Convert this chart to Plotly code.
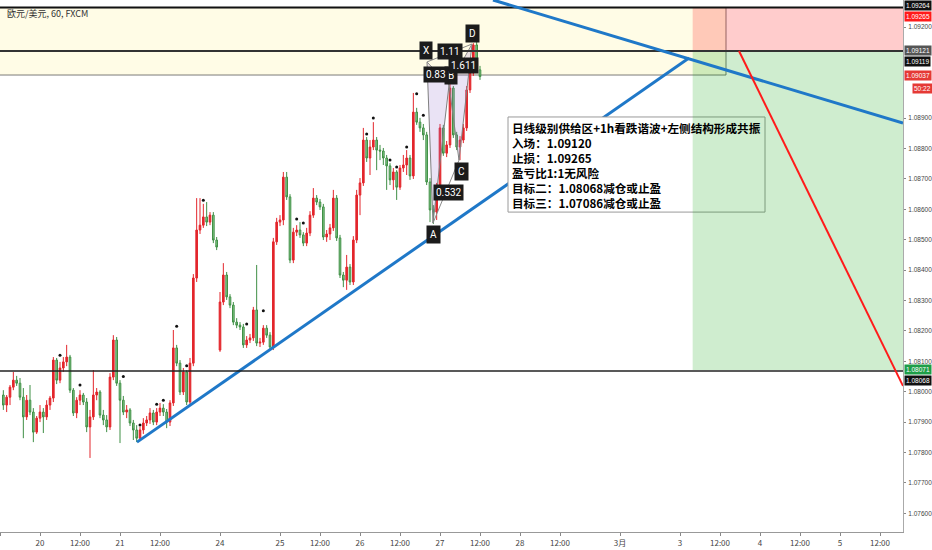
"""
欧元/美元 1小时图 - 谐波形态 + 供给区 + 多空头寸示意
"""
import plotly.graph_objects as go

# K线数据 (小时, 2月19日 12:00 起)
bar_index = list(range(1, 145))

opens = [
    1.07989, 1.07956, 1.07982, 1.08015, 1.08038, 1.08028, 1.07982, 1.07917, 1.07972, 1.07933,
    1.07867, 1.07913, 1.07933, 1.07917, 1.07956, 1.07979, 1.08104, 1.08038, 1.08078, 1.08098,
    1.08114, 1.08005, 1.07930, 1.07972, 1.07989, 1.07966, 1.07884, 1.07917, 1.07989, 1.07999,
    1.07923, 1.07907, 1.07884, 1.08048, 1.08170, 1.08028, 1.07972, 1.07933, 1.07940, 1.07897,
    1.07874, 1.07847, 1.07874, 1.07897, 1.07907, 1.07930, 1.07900, 1.07933, 1.07946, 1.07933,
    1.07900, 1.07963, 1.08144, 1.08094, 1.07999, 1.08065, 1.07966, 1.08094, 1.08374, 1.08532,
    1.08548, 1.08575, 1.08558, 1.08581, 1.08499, 1.08137, 1.08295, 1.08384, 1.08312, 1.08285,
    1.08229, 1.08219, 1.08213, 1.08154, 1.08170, 1.08177, 1.08269, 1.08160, 1.08163, 1.08209,
    1.08186, 1.08147, 1.08493, 1.08558, 1.08565, 1.08706, 1.08641, 1.08433, 1.08525, 1.08532,
    1.08516, 1.08489, 1.08522, 1.08581, 1.08637, 1.08624, 1.08608, 1.08509, 1.08519, 1.08539,
    1.08637, 1.08506, 1.08384, 1.08367, 1.08410, 1.08361, 1.08499, 1.08647, 1.08687, 1.08828,
    1.08769, 1.08805, 1.08828, 1.08795, 1.08792, 1.08769, 1.08743, 1.08697, 1.08723, 1.08673,
    1.08736, 1.08746, 1.08769, 1.08710, 1.08920, 1.08887, 1.08868, 1.08845, 1.08690, 1.08598,
    1.08591, 1.08673, 1.08868, 1.08785, 1.08812, 1.08999, 1.08845, 1.08805, 1.08828, 1.08868,
    1.08993, 1.09049, 1.09141, 1.09059,
]
highs = [
    1.08005, 1.07989, 1.08022, 1.08065, 1.08052, 1.08045, 1.08012, 1.07989, 1.08022, 1.07946,
    1.07920, 1.07956, 1.07946, 1.07972, 1.07986, 1.08114, 1.08111, 1.08098, 1.08114, 1.08154,
    1.08121, 1.08012, 1.07982, 1.08005, 1.07996, 1.07979, 1.07940, 1.08071, 1.08012, 1.08005,
    1.07940, 1.07923, 1.08061, 1.08186, 1.08180, 1.08038, 1.07986, 1.07956, 1.07946, 1.07907,
    1.07890, 1.07884, 1.07913, 1.07920, 1.07946, 1.07940, 1.07946, 1.07963, 1.07959, 1.07943,
    1.07972, 1.08203, 1.08154, 1.08104, 1.08078, 1.08071, 1.08111, 1.08387, 1.08637, 1.08637,
    1.08618, 1.08624, 1.08591, 1.08591, 1.08509, 1.08328, 1.08423, 1.08394, 1.08321, 1.08295,
    1.08242, 1.08229, 1.08223, 1.08183, 1.08190, 1.08279, 1.08417, 1.08177, 1.08219, 1.08219,
    1.08196, 1.08506, 1.08572, 1.08581, 1.08723, 1.08723, 1.08650, 1.08539, 1.08548, 1.08558,
    1.08525, 1.08539, 1.08594, 1.08670, 1.08647, 1.08634, 1.08618, 1.08532, 1.08552, 1.08664,
    1.08647, 1.08516, 1.08394, 1.08450, 1.08420, 1.08512, 1.08664, 1.08703, 1.08868, 1.08838,
    1.08828, 1.08887, 1.08838, 1.08812, 1.08802, 1.08779, 1.08752, 1.08736, 1.08729, 1.08746,
    1.08779, 1.08795, 1.08779, 1.08983, 1.08934, 1.08901, 1.08881, 1.08855, 1.08703, 1.08614,
    1.08687, 1.08881, 1.08878, 1.08825, 1.09013, 1.09006, 1.08855, 1.08841, 1.08881, 1.09006,
    1.09065, 1.09147, 1.09151, 1.09072,
]
lows = [
    1.07940, 1.07933, 1.07956, 1.08005, 1.08019, 1.07972, 1.07847, 1.07907, 1.07923, 1.07834,
    1.07861, 1.07900, 1.07864, 1.07907, 1.07940, 1.07966, 1.08025, 1.08028, 1.08065, 1.08084,
    1.07996, 1.07920, 1.07913, 1.07956, 1.07956, 1.07867, 1.07782, 1.07907, 1.07972, 1.07913,
    1.07890, 1.07867, 1.07874, 1.08038, 1.08019, 1.07831, 1.07923, 1.07913, 1.07887, 1.07841,
    1.07834, 1.07838, 1.07861, 1.07887, 1.07894, 1.07890, 1.07890, 1.07920, 1.07920, 1.07880,
    1.07887, 1.07953, 1.08084, 1.07989, 1.07989, 1.07956, 1.07959, 1.08084, 1.08361, 1.08519,
    1.08539, 1.08545, 1.08548, 1.08489, 1.08466, 1.08131, 1.08285, 1.08302, 1.08275, 1.08219,
    1.08209, 1.08203, 1.08144, 1.08144, 1.08160, 1.08167, 1.08150, 1.08147, 1.08154, 1.08177,
    1.08137, 1.08137, 1.08483, 1.08545, 1.08548, 1.08631, 1.08423, 1.08423, 1.08512, 1.08506,
    1.08479, 1.08479, 1.08512, 1.08572, 1.08614, 1.08598, 1.08499, 1.08493, 1.08499, 1.08529,
    1.08496, 1.08374, 1.08344, 1.08335, 1.08351, 1.08351, 1.08489, 1.08581, 1.08677, 1.08756,
    1.08713, 1.08795, 1.08729, 1.08762, 1.08746, 1.08664, 1.08680, 1.08664, 1.08631, 1.08664,
    1.08723, 1.08713, 1.08697, 1.08700, 1.08878, 1.08855, 1.08828, 1.08680, 1.08558, 1.08552,
    1.08565, 1.08664, 1.08776, 1.08772, 1.08802, 1.08835, 1.08795, 1.08762, 1.08818, 1.08858,
    1.08983, 1.09039, 1.09049, 1.09026,
]
closes = [
    1.07956, 1.07982, 1.08015, 1.08038, 1.08028, 1.07982, 1.07917, 1.07972, 1.07933, 1.07867,
    1.07913, 1.07933, 1.07917, 1.07956, 1.07979, 1.08104, 1.08038, 1.08078, 1.08098, 1.08114,
    1.08005, 1.07930, 1.07972, 1.07989, 1.07966, 1.07884, 1.07917, 1.07989, 1.07999, 1.07923,
    1.07907, 1.07884, 1.08048, 1.08170, 1.08028, 1.07972, 1.07933, 1.07940, 1.07897, 1.07874,
    1.07847, 1.07874, 1.07897, 1.07907, 1.07930, 1.07900, 1.07933, 1.07946, 1.07933, 1.07900,
    1.07963, 1.08144, 1.08094, 1.07999, 1.08065, 1.07966, 1.08094, 1.08374, 1.08532, 1.08548,
    1.08575, 1.08558, 1.08581, 1.08499, 1.08476, 1.08295, 1.08384, 1.08312, 1.08285, 1.08229,
    1.08219, 1.08213, 1.08154, 1.08170, 1.08177, 1.08269, 1.08160, 1.08163, 1.08209, 1.08186,
    1.08147, 1.08493, 1.08558, 1.08565, 1.08706, 1.08641, 1.08433, 1.08525, 1.08532, 1.08516,
    1.08489, 1.08522, 1.08581, 1.08637, 1.08624, 1.08608, 1.08509, 1.08519, 1.08539, 1.08637,
    1.08506, 1.08384, 1.08367, 1.08410, 1.08361, 1.08499, 1.08647, 1.08687, 1.08828, 1.08769,
    1.08805, 1.08828, 1.08795, 1.08792, 1.08769, 1.08743, 1.08697, 1.08723, 1.08673, 1.08736,
    1.08746, 1.08769, 1.08710, 1.08920, 1.08887, 1.08868, 1.08845, 1.08690, 1.08598, 1.08591,
    1.08673, 1.08868, 1.08785, 1.08812, 1.08999, 1.08845, 1.08805, 1.08828, 1.08868, 1.08993,
    1.09049, 1.09141, 1.09059, 1.09037,
]

# 分形点 (K线上方的小黑点)
fractal_x = [18, 24, 37, 42, 47, 49, 53, 56, 61, 74, 79, 89, 91, 110, 112, 117, 119, 122, 125, 127]
fractal_y = [1.08120, 1.08022, 1.08050, 1.07890, 1.07959, 1.07972, 1.08215, 1.08085, 1.08630, 1.08223,
             1.08266, 1.08568, 1.08555, 1.08848, 1.08901, 1.08762, 1.08739, 1.08805, 1.08980, 1.08910]

# 谐波形态 XABCD
pattern_names = ["X", "A", "B", "C", "D"]
pattern_x = [128.1, 129.9, 134.7, 137.7, 141.6]
pattern_y = [1.09085, 1.08555, 1.09009, 1.08762, 1.09144]
ratio_labels = ["1.11", "0.83", "1.611", "0.532"]

# 横轴刻度
tick_pos = [0, 12, 24, 36, 48, 66, 84, 96, 108, 120, 132, 144, 156, 168, 186, 204, 216, 228, 240, 252, 264]
tick_text = ["12:00", "20", "12:00", "21", "12:00", "24", "25", "12:00", "26", "12:00", "27", "12:00",
             "28", "12:00", "3月", "3", "12:00", "4", "12:00", "5", "12:00"]
price_ticks = [1.076, 1.077, 1.078, 1.079, 1.080, 1.081, 1.082, 1.083, 1.084,
               1.085, 1.086, 1.087, 1.088, 1.089, 1.092]

# 交易计划
entry_price = 1.09120
stop_price = 1.09265
target_price = 1.08071
zone_top = 1.09264
zone_bottom = 1.09042
level_mid = 1.09121
level_low = 1.08068

Y_MIN, Y_MAX = 1.075383, 1.092889
X_MAX = 270.9
PLOT_H = 532.0

fig = go.Figure()

# 谐波形态填充 (在K线下方)
px_, py_ = pattern_x, pattern_y
fig.add_trace(go.Scatter(x=[px_[0], px_[1], px_[2], px_[0]], y=[py_[0], py_[1], py_[2], py_[0]],
                         fill="toself", fillcolor="rgba(149,117,205,0.2)", mode="lines",
                         line=dict(width=0), hoverinfo="skip"))
fig.add_trace(go.Scatter(x=[px_[2], px_[3], px_[4], px_[2]], y=[py_[2], py_[3], py_[4], py_[2]],
                         fill="toself", fillcolor="rgba(149,117,205,0.2)", mode="lines",
                         line=dict(width=0), hoverinfo="skip"))

fig.add_trace(go.Candlestick(
    x=bar_index, open=opens, high=highs, low=lows, close=closes,
    increasing=dict(line=dict(color="#e3262c", width=1), fillcolor="#e3262c"),
    decreasing=dict(line=dict(color="#3f8f45", width=1), fillcolor="#86c98a"),
    whiskerwidth=0, hoverinfo="skip",
))

fig.add_trace(go.Scatter(x=fractal_x, y=fractal_y, mode="markers",
                         marker=dict(size=3, color="#111"), hoverinfo="skip"))

# 谐波连线
fig.add_trace(go.Scatter(x=pattern_x, y=pattern_y, mode="lines",
                         line=dict(color="#808080", width=1), hoverinfo="skip"))
for a, b in [(0, 4), (0, 2), (2, 4), (1, 3)]:
    fig.add_trace(go.Scatter(x=[pattern_x[a], pattern_x[b]], y=[pattern_y[a], pattern_y[b]],
                             mode="lines", line=dict(color="#8a8a8a", width=1), hoverinfo="skip"))

# 上升趋势线 (在文字框下面)
fig.add_trace(go.Scatter(x=[41.1, 206.7], y=[1.07834, 1.09098], mode="lines",
                         line=dict(color="#1f78c8", width=3), hoverinfo="skip"))

shapes = []
# 供给区 (黄色)
shapes.append(dict(type="rect", xref="x", yref="y", x0=-5, x1=217.8, y0=zone_bottom, y1=zone_top,
                   fillcolor="rgba(255,235,59,0.13)", line=dict(color="rgba(90,90,90,0.8)", width=1),
                   layer="below"))
# 文字框背景
shapes.append(dict(type="rect", xref="x", yref="y", x0=152.4, x1=229.5, y0=1.08591, y1=1.08904,
                   fillcolor="white", line=dict(color="#9a9a9a", width=1), layer="above"))
# 止损区 / 目标区
shapes.append(dict(type="rect", xref="x", yref="y", x0=207.8, x1=290, y0=entry_price, y1=stop_price,
                   fillcolor="rgba(255,0,0,0.2)", line=dict(width=0), layer="above"))
shapes.append(dict(type="rect", xref="x", yref="y", x0=207.8, x1=290, y0=target_price, y1=entry_price,
                   fillcolor="rgba(0,160,0,0.19)", line=dict(width=0), layer="above"))
# 水平线
shapes.append(dict(type="line", xref="paper", yref="y", x0=0, x1=1, y0=zone_top, y1=zone_top,
                   line=dict(color="#111", width=2), layer="above"))
shapes.append(dict(type="line", xref="paper", yref="y", x0=0, x1=1, y0=level_mid, y1=level_mid,
                   line=dict(color="#333", width=2), layer="above"))
shapes.append(dict(type="line", xref="paper", yref="y", x0=0, x1=1, y0=level_low, y1=level_low,
                   line=dict(color="#222", width=1.5), layer="above"))
# 下降趋势线 / 红色线
shapes.append(dict(type="line", xref="x", yref="y", x0=147.9, x1=270.9, y0=1.09289, y1=1.08884,
                   line=dict(color="#1f78c8", width=3), layer="above"))
shapes.append(dict(type="line", xref="x", yref="y", x0=221.7, x1=270.9, y0=1.09121, y1=1.08019,
                   line=dict(color="#ff1a1a", width=2), layer="above"))

annotations = []
# 标题
annotations.append(dict(xref="paper", yref="paper", x=0.005, y=1 - 13 / PLOT_H, xanchor="left",
                        yanchor="middle", text="欧元/美元, 60, FXCM", showarrow=False,
                        font=dict(family="Noto Sans CJK SC", size=9, color="#333")))

# 形态标签
point_label_pos = [(127.8, 1.09124), (129.9, 1.08516), (135.3, 1.09042), (138.3, 1.08726), (141.6, 1.09180)]
for name, (lx, ly) in zip(pattern_names, point_label_pos):
    annotations.append(dict(x=lx, y=ly, text=name, showarrow=False, bgcolor="#1b1b1b",
                            borderpad=3, font=dict(family="Roboto", size=10, color="white")))
ratio_pos = [(135.0, 1.09121), (130.8, 1.09045), (138.9, 1.09075), (134.4, 1.08657)]
for txt, (lx, ly) in zip(ratio_labels, ratio_pos):
    annotations.append(dict(x=lx, y=ly, text=txt, showarrow=False, bgcolor="#1b1b1b",
                            borderpad=2, font=dict(family="Roboto", size=10, color="white")))

# 交易计划文字
plan_lines = [
    "日线级别供给区+1h看跌谐波+左侧结构形成共振",
    "入场：1.09120",
    "止损：1.09265",
    "盈亏比1:1无风险",
    "目标二：1.08068减仓或止盈",
    "目标三：1.07086减仓或止盈",
]
annotations.append(dict(x=152.9, y=1.08900, xanchor="left", yanchor="top", align="left",
                        text="<br>".join("<b>%s</b>" % s for s in plan_lines), showarrow=False,
                        font=dict(family="Noto Sans CJK SC", size=11.6, color="#000")))

# 右侧价格标签
tags = [
    ("1.09264", 6, "#111111", 0),
    ("1.09265", 17, "#ff1a1a", 0),
    ("1.09121", 51, "#555555", 0),
    ("1.09119", 61, "#111111", 0),
    ("1.09037", 76, "#e53935", 0),
    ("50:22", 88, "#e53935", 8),
    ("1.08071", 369, "#1e9e48", 0),
    ("1.08068", 380, "#111111", 0),
]
for txt, ypx, col, shift in tags:
    annotations.append(dict(xref="paper", yref="paper", x=1, y=1 - ypx / PLOT_H, xanchor="left",
                            yanchor="middle", xshift=1 + shift, text=txt, showarrow=False,
                            bgcolor=col, borderpad=1,
                            font=dict(family="Liberation Sans", size=6.5, color="white")))

fig.update_layout(
    width=932, height=550,
    margin=dict(l=0, r=29, t=0, b=18),
    paper_bgcolor="white", plot_bgcolor="white",
    showlegend=False,
    shapes=shapes,
    annotations=annotations,
    xaxis=dict(range=[0, X_MAX], rangeslider=dict(visible=False), showgrid=False, zeroline=False,
               tickmode="array", tickvals=tick_pos, ticktext=tick_text, ticks="outside", ticklen=3,
               tickcolor="#888", showline=True, linecolor="#999", linewidth=1,
               tickfont=dict(family="Noto Sans CJK SC", size=8, color="#444"), automargin=False),
    yaxis=dict(range=[Y_MIN, Y_MAX], side="right", showgrid=False, zeroline=False,
               tickmode="array", tickvals=price_ticks, ticktext=["%.5f" % v for v in price_ticks],
               ticks="outside", ticklen=2, tickcolor="#888", showline=True, linecolor="#aaa",
               ticklabelstandoff=1,
               tickfont=dict(family="Liberation Sans", size=6.5, color="#444"), automargin=False),
)

# 页面默认有 8px 边距, 去掉以便图表贴齐窗口
fig.write_html("out.html", config={"displayModeBar": False},
               post_script="document.body.style.margin='0';")
